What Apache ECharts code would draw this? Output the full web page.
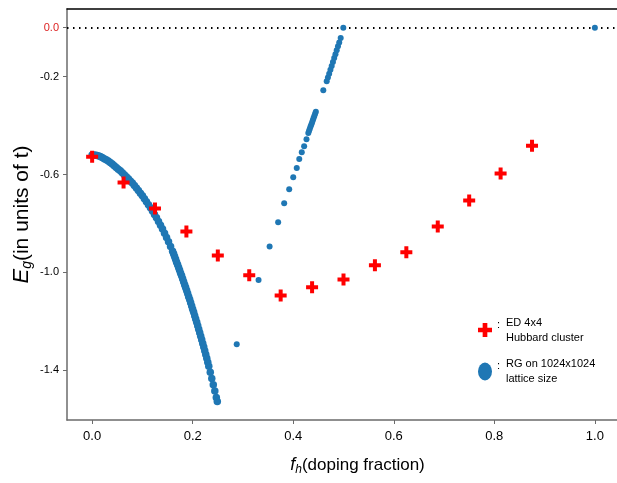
<!DOCTYPE html>
<html>
<head>
<meta charset="utf-8">
<script src="https://cdn.jsdelivr.net/npm/echarts@6/dist/echarts.min.js"></script>
<style>
html, body { margin: 0; padding: 0; background: #fff; }
#chart { width: 617px; height: 483px; }
</style>
</head>
<body>
<div id="chart"></div>
<script>
// ED on a 4x4 Hubbard cluster: doping fraction, gap energy
const edX = [0, 0.0625, 0.125, 0.1875, 0.25, 0.3125, 0.375, 0.4375, 0.5, 0.5625, 0.625, 0.6875, 0.75, 0.8125, 0.875];
const edY = [-0.527, -0.633, -0.739, -0.833, -0.931, -1.012, -1.094, -1.061, -1.029, -0.971, -0.918, -0.812, -0.706, -0.596, -0.482];

// RG on 1024x1024 lattice, first (falling) branch, [x, y]
const rgFalling = [
  [0, -0.520], [0.004, -0.520], [0.008, -0.521], [0.012, -0.523], [0.016, -0.526], [0.020, -0.530],
  [0.024, -0.535], [0.028, -0.540], [0.032, -0.545], [0.036, -0.551], [0.040, -0.557], [0.044, -0.564],
  [0.048, -0.571], [0.052, -0.578], [0.056, -0.585], [0.060, -0.593], [0.064, -0.601], [0.068, -0.609],
  [0.072, -0.617], [0.076, -0.626], [0.080, -0.635], [0.084, -0.645], [0.088, -0.655], [0.092, -0.665],
  [0.096, -0.676], [0.100, -0.687], [0.104, -0.699], [0.108, -0.711], [0.112, -0.723], [0.116, -0.736],
  [0.120, -0.749], [0.124, -0.763], [0.128, -0.777], [0.132, -0.792], [0.136, -0.807], [0.140, -0.823],
  [0.144, -0.840], [0.148, -0.857], [0.152, -0.875], [0.156, -0.894], [0.160, -0.913],
  [0.162, -0.924], [0.164, -0.935], [0.166, -0.946], [0.168, -0.958], [0.170, -0.969], [0.172, -0.980],
  [0.174, -0.991], [0.176, -1.003], [0.178, -1.014], [0.180, -1.026], [0.182, -1.038], [0.184, -1.050],
  [0.186, -1.062], [0.188, -1.074], [0.190, -1.086], [0.192, -1.099], [0.194, -1.111], [0.196, -1.124],
  [0.198, -1.137], [0.200, -1.150], [0.202, -1.163], [0.204, -1.177], [0.206, -1.190], [0.208, -1.204],
  [0.210, -1.218], [0.212, -1.232], [0.214, -1.246], [0.216, -1.261], [0.218, -1.275], [0.220, -1.290],
  [0.222, -1.305], [0.224, -1.320], [0.226, -1.335], [0.228, -1.351], [0.230, -1.367], [0.232, -1.383],
  [0.235, -1.408], [0.238, -1.433], [0.241, -1.459], [0.244, -1.485], [0.247, -1.511], [0.249, -1.527]
];

// RG second (rising) branch plus the point at full doping
const rgRising = [
  [0.2876, -1.293], [0.331, -1.031], [0.353, -0.894], [0.370, -0.795], [0.382, -0.717], [0.392, -0.660],
  [0.400, -0.611], [0.407, -0.573], [0.412, -0.537], [0.417, -0.509], [0.4217, -0.484], [0.4264, -0.456],
  [0.430, -0.430], [0.4315, -0.421], [0.433, -0.413], [0.4345, -0.404], [0.436, -0.396], [0.4375, -0.387],
  [0.439, -0.378], [0.4405, -0.369], [0.442, -0.361], [0.4435, -0.352], [0.445, -0.343],
  [0.4598, -0.256],
  [0.4666, -0.219], [0.469, -0.204], [0.4715, -0.188], [0.474, -0.172], [0.4765, -0.156], [0.479, -0.140],
  [0.4815, -0.124], [0.484, -0.108], [0.4865, -0.092], [0.489, -0.076], [0.4915, -0.060], [0.4944, -0.042],
  [0.4996, 0.0], [1.0, 0.0]
];

const xTicks = [0, 0.2, 0.4, 0.6, 0.8, 1.0];
const yTicks = [0, -0.2, -0.6, -1.0, -1.4];

const edName = 'ED 4x4 Hubbard cluster';
const rgName = 'RG on 1024x1024 lattice size';
const legendLines = {};
legendLines[edName] = ['ED 4x4', 'Hubbard cluster'];
legendLines[rgName] = ['RG on 1024x1024', 'lattice size'];

const plusIcon = 'path://M4,0H8V4H12V8H8V12H4V8H0V4H4Z';
// same plus, padded top and bottom so it stays square in the taller legend box
const plusLegend = 'path://M6,-1.7L6.01,-1.7ZM4,0H8V4H12V8H8V12H4V8H0V4H4ZM6,13.7L6.01,13.7Z';
const ovalIcon = 'path://M0,1A1,1,0,1,1,2,1A1,1,0,1,1,0,1Z';
const blue = '#1f77b4';
const spine = '#6b6b6b';
const sans = 'Liberation Sans';

const chart = echarts.init(document.getElementById('chart'));

const option = {
  animation: false,
  grid: { left: 67, top: 9, right: -3, bottom: 63, outerBoundsMode: 'none' },
  legend: {
    orient: 'vertical',
    left: 473,
    top: 310,
    itemWidth: 14,
    itemHeight: 18,
    itemGap: 13,
    symbolKeepAspect: false,
    selectedMode: false,
    data: [
      { name: edName, icon: plusLegend, itemStyle: { color: '#ff0000' } },
      { name: rgName, icon: ovalIcon, itemStyle: { color: blue } }
    ],
    formatter: function (name) {
      const l = legendLines[name];
      return '{c|:}{t|' + l[0] + '}\n{s|}{t|' + l[1] + '}';
    },
    textStyle: {
      rich: {
        c: { width: 9, fontSize: 11, fontFamily: sans, color: '#000', lineHeight: 15, padding: [4, 0, 0, 0] },
        s: { width: 9, lineHeight: 15 },
        t: { fontSize: 11, fontFamily: sans, color: '#000', lineHeight: 15 }
      }
    }
  },
  xAxis: [
    {
      type: 'value',
      min: -0.05,
      max: 1.05,
      position: 'bottom',
      name: '{i|f}{sub|h}{n|(doping fraction)}',
      nameLocation: 'middle',
      nameGap: 34,
      nameTextStyle: {
        padding: [0, 0, 0, 28],
        rich: {
          i: { fontSize: 18, fontStyle: 'italic', fontFamily: sans, color: '#000', lineHeight: 22 },
          sub: { fontSize: 12, fontStyle: 'italic', fontFamily: sans, color: '#000', lineHeight: 14, verticalAlign: 'bottom' },
          n: { fontSize: 17, fontFamily: sans, color: '#000', lineHeight: 22 }
        }
      },
      splitLine: { show: false },
      axisLine: { show: true, onZero: false, lineStyle: { color: spine, width: 1.5 } },
      axisTick: { show: true, length: 4, customValues: xTicks, lineStyle: { color: spine } },
      axisLabel: {
        customValues: xTicks,
        margin: 10,
        fontSize: 13,
        fontFamily: sans,
        color: '#000',
        formatter: function (v) { return Number(v).toFixed(1); }
      }
    },
    {
      type: 'value',
      min: -0.05,
      max: 1.05,
      position: 'top',
      splitLine: { show: false },
      axisLine: { show: true, onZero: false, lineStyle: { color: '#000', width: 1.5 } },
      axisTick: { show: false },
      axisLabel: { show: false }
    }
  ],
  yAxis: {
    type: 'value',
    min: -1.603,
    max: 0.0764,
    name: '{i|E}{sub|g}{n|(in units of t)}',
    nameLocation: 'middle',
    nameMoveOverlap: false,
    nameGap: 33,
    nameTextStyle: {
      rich: {
        i: { fontSize: 22, fontStyle: 'italic', fontFamily: sans, color: '#000', lineHeight: 24 },
        sub: { fontSize: 14, fontStyle: 'italic', fontFamily: sans, color: '#000', lineHeight: 16, verticalAlign: 'bottom' },
        n: { fontSize: 21, fontFamily: sans, color: '#000', lineHeight: 24 }
      }
    },
    splitLine: { show: false },
    axisLine: { show: true, onZero: false, lineStyle: { color: spine, width: 1.5 } },
    axisTick: { show: true, length: 4, customValues: yTicks, lineStyle: { color: spine } },
    axisLabel: {
      customValues: yTicks,
      margin: 8,
      fontSize: 11,
      fontFamily: sans,
      color: function (v) { return Number(v) === 0 ? '#dd2222' : '#000'; },
      formatter: function (v) { return Number(v).toFixed(1); }
    }
  },
  series: [
    {
      name: rgName,
      type: 'scatter',
      symbol: 'circle',
      symbolSize: 7.5,
      itemStyle: { color: blue, opacity: 1 },
      data: rgFalling,
      z: 3,
      markLine: {
        silent: true,
        z: 1,
        symbol: ['none', 'none'],
        label: { show: false },
        lineStyle: { color: '#000', type: [1.5, 4.5], width: 1.8 },
        data: [{ yAxis: 0 }]
      }
    },
    {
      name: rgName,
      type: 'scatter',
      symbol: 'circle',
      symbolSize: 6,
      itemStyle: { color: blue, opacity: 1 },
      data: rgRising,
      z: 3
    },
    {
      name: edName,
      type: 'scatter',
      symbol: plusIcon,
      symbolSize: 12,
      itemStyle: { color: '#ff0000', opacity: 1 },
      data: edX.map(function (x, i) { return [x, edY[i]]; }),
      z: 4
    }
  ]
};

chart.setOption(option);
</script>
</body>
</html>
